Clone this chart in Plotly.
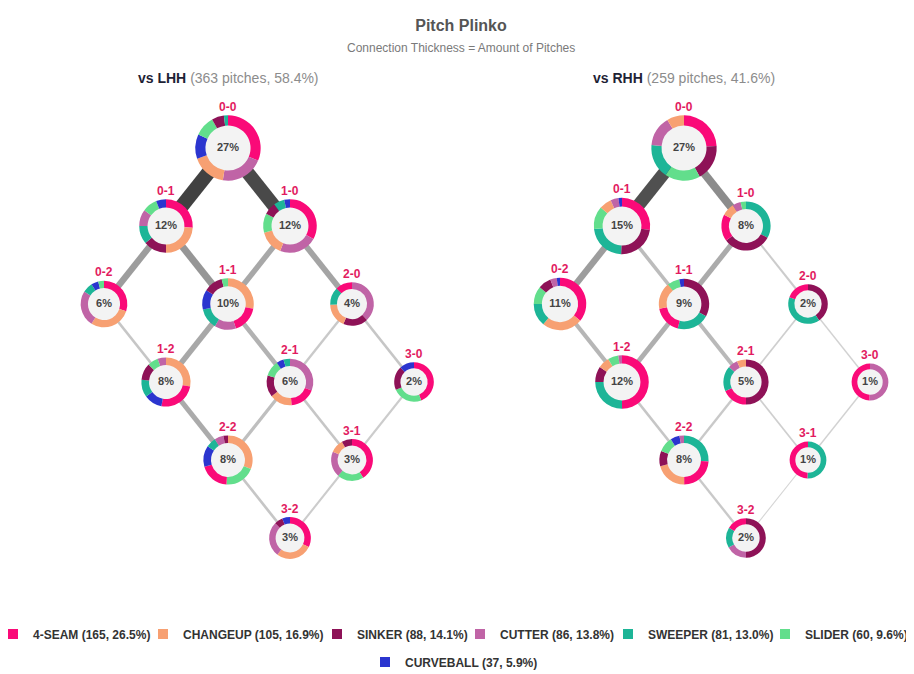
import math
import plotly.graph_objects as go

# pitch types in legend order, with season totals
pitch_types = ["4-SEAM", "CHANGEUP", "SINKER", "CUTTER", "SWEEPER", "SLIDER", "CURVEBALL"]
pitch_totals = [165, 105, 88, 86, 81, 60, 37]
pitch_share = [26.5, 16.9, 14.1, 13.8, 13.0, 9.6, 5.9]
pitch_colors = ["#FA0A78", "#F7A072", "#8E1257", "#C064A6", "#1DB597", "#62DE8C", "#2B35CF"]

# batter hands
hands = ["LHH", "RHH"]
hand_pitches = [363, 259]
hand_share = [58.4, 41.6]

counts = ["0-0", "0-1", "1-0", "0-2", "1-1", "2-0", "1-2", "2-1", "3-0", "2-2", "3-1", "3-2"]

# share of pitches thrown in each count
lhh_pct = [27, 12, 12, 6, 10, 4, 8, 6, 2, 8, 3, 3]
rhh_pct = [27, 15, 8, 11, 9, 2, 12, 5, 1, 8, 1, 2]

# pitch mix (%) in each count, legend order
lhh_mix = [
    [31, 17, 6, 21, 2, 10, 12],
    [26, 24, 14, 10, 11, 9, 6],
    [33, 15, 7.5, 23, 6.5, 11.5, 3.5],
    [30, 29, 0, 25, 7, 4, 5],
    [17, 28, 12, 13.5, 13, 4, 12.5],
    [12.5, 18, 18.5, 38, 13, 0, 0],
    [25, 28, 11, 5.5, 11.5, 7, 12],
    [18, 15.5, 15, 31, 4.5, 11, 5],
    [44, 0, 19.5, 0, 0, 24.5, 12],
    [19.5, 31, 3, 6, 6.5, 20, 14],
    [41, 10.5, 8, 20, 0, 20.5, 0],
    [32, 28, 6.5, 27, 0, 0, 6],
]
rhh_mix = [
    [24, 8.5, 18, 15, 17, 17.5, 0],
    [27, 7, 23, 4.5, 22.5, 13, 2],
    [17.5, 8.5, 32, 5.5, 33, 3.5, 0],
    [36, 25, 8, 4, 14, 11, 2],
    [18, 17, 33, 0, 21, 8, 3],
    [19.5, 0, 40.5, 0, 40, 0, 0],
    [50, 7, 9.4, 2.2, 25, 6.4, 0],
    [18.5, 6.5, 50, 7, 18, 0, 0],
    [49.5, 0, 0, 50.5, 0, 0, 0],
    [24, 21, 10.2, 3, 26, 10, 6],
    [49.5, 0, 0, 0, 50.5, 0, 0],
    [16.4, 0, 50, 17, 16.6, 0, 0],
]

# count-to-count connections and pitches flowing along them
links = [("0-0", "0-1"), ("0-0", "1-0"), ("0-1", "0-2"), ("0-1", "1-1"),
         ("1-0", "1-1"), ("1-0", "2-0"), ("0-2", "1-2"), ("1-1", "1-2"),
         ("1-1", "2-1"), ("2-0", "2-1"), ("2-0", "3-0"), ("1-2", "2-2"),
         ("2-1", "2-2"), ("2-1", "3-1"), ("3-0", "3-1"), ("2-2", "3-2"),
         ("3-1", "3-2")]
lhh_flow = [43, 41, 18, 20, 15, 16, 6, 15, 12, 5, 6, 14, 8, 6, 4, 6, 4]
rhh_flow = [39, 23, 18, 9, 14, 4, 11, 13, 10, 3, 2, 6, 5, 3, 2, 5, 1]

# page body adds an 8px margin, so the figure is drawn 8px in from the window edge
W, H = 906, 666
STEP_X, STEP_Y, TOP_Y = 62, 78, 140
PANEL_CX = [220, 676]
HOLE = 0.69
FONT = "Liberation Sans, Arial, Helvetica, sans-serif"


def pos(c):
    b, s = [int(v) for v in c.split("-")]
    return b - s, b + s


def radius(p):
    return 15 + 3.4 * math.sqrt(p)


fig = go.Figure()
flow_max = max(lhh_flow + rhh_flow)
annotations = []
panels = [(lhh_pct, lhh_mix, lhh_flow), (rhh_pct, rhh_mix, rhh_flow)]
axes = ["x", "x2"]

# connections (drawn first so everything else sits on top)
for i, (pct, mix, flow) in enumerate(panels):
    for (a, b), n in zip(links, flow):
        xa0, ya0 = pos(a)
        xb0, yb0 = pos(b)
        g = round(215 - 150 * (n / flow_max) ** 1.1)
        fig.add_trace(go.Scatter(
            x=[xa0, xb0], y=[ya0, yb0], mode="lines",
            line=dict(width=0.8 + 0.31 * n, color=f"rgb({g},{g},{g})"),
            hoverinfo="skip", showlegend=False, xaxis=axes[i], yaxis="y"))

for i, (pct, mix, flow) in enumerate(panels):
    xa = axes[i]
    cx = PANEL_CX[i]
    xs = [pos(c)[0] for c in counts]
    ys = [pos(c)[1] for c in counts]
    rs = [radius(p) for p in pct]

    # donut centres
    fig.add_trace(go.Scatter(
        x=xs, y=ys, mode="markers+text",
        marker=dict(size=[2 * r * HOLE + 1.5 for r in rs], color="#F3F3F3",
                    opacity=1, line=dict(width=0)),
        text=[f"<b>{p}%</b>" for p in pct], textposition="middle center",
        textfont=dict(size=11, color="#444444", family=FONT),
        hoverinfo="skip", showlegend=False, xaxis=xa, yaxis="y"))

    # donuts
    for c, p, m, r in zip(counts, pct, mix, rs):
        dx, dy = pos(c)
        px = cx + STEP_X * dx
        py = TOP_Y + STEP_Y * dy
        fig.add_trace(go.Pie(
            labels=pitch_types, values=m, hole=HOLE, sort=True,
            direction="clockwise", rotation=0, textinfo="none",
            marker=dict(colors=pitch_colors, line=dict(width=0)),
            domain=dict(x=[(px - r) / W, (px + r) / W],
                        y=[1 - (py + r) / H, 1 - (py - r) / H]),
            showlegend=False, hovertemplate=f"{c}<br>%{{label}}: %{{value}}%<extra></extra>"))
        annotations.append(dict(
            x=dx, y=dy, xref=xa, yref="y", yshift=r + 8.5, showarrow=False,
            yanchor="middle",
            text=f"<b>{c}</b>", font=dict(size=12, color="#E21B5F", family=FONT)))

    annotations.append(dict(
        x=0, y=1 - 70 / H, xref=xa, yref="paper", showarrow=False, yanchor="middle",
        text=f"<b>vs {hands[i]}</b> <span style='color:#8C8C8C'>({hand_pitches[i]} pitches, {hand_share[i]}%)</span>",
        font=dict(size=14, color="#1E2235", family=FONT)))

annotations.append(dict(
    x=0.5, y=1 - 40 / H, xref="paper", yref="paper", showarrow=False, yanchor="middle",
    text="Connection Thickness = Amount of Pitches",
    font=dict(size=12, color="#7A7A7A", family=FONT)))

# legend entries: one legend per entry so the rows sit like the original
legend_text_x = [20, 170, 344, 487, 635, 792, 392]
legend_row = [626, 626, 626, 626, 626, 626, 654]
legends = {}
for k, (name, tot, sh, col) in enumerate(zip(pitch_types, pitch_totals, pitch_share, pitch_colors)):
    lid = "legend" if k == 0 else f"legend{k + 1}"
    fig.add_trace(go.Scatter(
        x=[None], y=[None], mode="markers", name=f"{name} ({tot}, {sh}%)",
        marker=dict(symbol="square", size=10, color=col),
        legend=lid, showlegend=True, xaxis="x", yaxis="y"))
    legends[lid] = dict(
        x=(legend_text_x[k] - 35) / W, y=1 - legend_row[k] / H,
        xanchor="left", yanchor="middle", orientation="h",
        bgcolor="rgba(0,0,0,0)",
        font=dict(size=12, color="#333333", family=FONT, weight="bold"))

y_range = [(H - TOP_Y) / STEP_Y, -TOP_Y / STEP_Y]
fig.update_layout(
    width=W, height=H, autosize=False,
    margin=dict(l=0, r=0, t=0, b=0, autoexpand=False),
    paper_bgcolor="white", plot_bgcolor="white",
    font=dict(family=FONT),
    title=dict(text="<b>Pitch Plinko</b>", x=0.5, xanchor="center",
               y=1 - 17 / H, yanchor="middle", yref="container",
               font=dict(size=16, color="#555555", family=FONT)),
    xaxis=dict(domain=[0, 0.5], range=[(0 - PANEL_CX[0]) / STEP_X, (W / 2 - PANEL_CX[0]) / STEP_X],
               visible=False, fixedrange=True),
    xaxis2=dict(domain=[0.5, 1], range=[(W / 2 - PANEL_CX[1]) / STEP_X, (W - PANEL_CX[1]) / STEP_X],
                visible=False, fixedrange=True),
    yaxis=dict(domain=[0, 1], range=y_range, visible=False, fixedrange=True),
    annotations=annotations,
    **legends,
)

fig.write_html("out.html")
